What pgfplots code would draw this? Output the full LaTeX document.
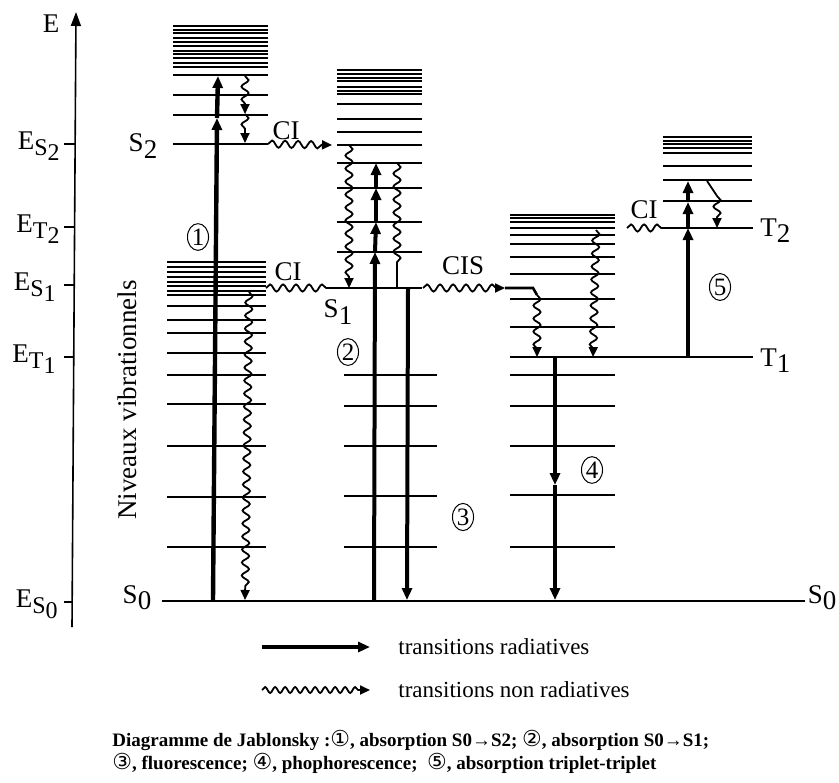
\documentclass[border=0pt]{standalone}
\usepackage{pgfplots}
\pgfplotsset{compat=1.18}
\usepackage{fontspec}
\setmainfont{Liberation Serif}
\newfontfamily\dejavu{DejaVu Sans}
\usetikzlibrary{arrows.meta,decorations.pathmorphing,shapes.geometric}
\tikzset{
 tl/.style={line width=0.6pt},
 tk/.style={line width=1.3pt},
 rad/.style={line width=2pt, -{Triangle[width=5pt,length=6pt]}},
 wav/.style={line width=0.9pt, decorate, decoration={snake, amplitude=1.8pt, segment length=6.5pt, post length=4pt}, -{Triangle[width=4.5pt,length=5pt]}},
 wavn/.style={line width=0.9pt, decorate, decoration={snake, amplitude=1.8pt, segment length=6.5pt}},
 lab/.style={font=\fontsize{13.5}{15}\selectfont, inner sep=0pt},
 circ/.style={draw, ellipse, inner sep=0.6pt, line width=0.5pt, font=\fontsize{12.5}{13}\selectfont}
}
\newcommand\lo[2]{#1\raisebox{-0.5ex}{#2}}
\newcommand\EE[2]{E\raisebox{-0.45ex}{\fontsize{12}{13}\selectfont #1\raisebox{-0.45ex}{#2}}}
\newcommand\cn[1]{{\dejavu\mdseries\fontsize{11}{11}\selectfont #1}}
\begin{document}
\begin{tikzpicture}
\begin{axis}[scale only axis, width=419.5pt, height=391pt,
  xmin=0, xmax=839, ymin=0, ymax=782, y dir=reverse, hide axis, clip=false]
\addplot[draw=none] coordinates {(0,0) (839,782)};
% energy axis
\addplot[line width=0.8pt, -{Triangle[width=5pt,length=7pt]}] coordinates {(72,627) (76,12)};
\addplot[tl] coordinates {(64,144) (75,144)};
\addplot[tl] coordinates {(64,227) (74,227)};
\addplot[tl] coordinates {(64,285) (74,285)};
\addplot[tl] coordinates {(64,357) (74,357)};
\addplot[tl] coordinates {(64,602) (72,602)};
\node[lab, anchor=center] at (axis cs:51,24) {E};
\node[lab, anchor=east] at (axis cs:60,146) {\EE{S}{2}};
\node[lab, anchor=east] at (axis cs:60,229) {\EE{T}{2}};
\node[lab, anchor=east] at (axis cs:56,287) {\EE{S}{1}};
\node[lab, anchor=east] at (axis cs:56,359) {\EE{T}{1}};
\node[lab, anchor=east] at (axis cs:58,604) {\EE{S}{0}};
% ground state
\addplot[tk] coordinates {(162,601) (805,601)};
\node[lab] at (axis cs:137,598) {\lo{S}{0}};
\node[lab] at (axis cs:822,598) {\lo{S}{0}};
% column A, S2 manifold
\addplot[tk] coordinates {(173,26) (268,26)};
\addplot[tl] coordinates {(173,30) (268,30)};
\addplot[tk] coordinates {(173,33) (268,33)};
\addplot[tl] coordinates {(173,38) (268,38)};
\addplot[tk] coordinates {(173,42) (268,42)};
\addplot[tl] coordinates {(173,46) (268,46)};
\addplot[tk] coordinates {(173,51) (268,51)};
\addplot[tl] coordinates {(173,54) (268,54)};
\addplot[tk] coordinates {(173,58) (268,58)};
\addplot[tl] coordinates {(173,63) (268,63)};
\addplot[tl] coordinates {(173,67) (268,67)};
\addplot[tk] coordinates {(173,75) (268,75)};
\addplot[tl] coordinates {(173,95) (268,95)};
\addplot[tl] coordinates {(173,115) (268,115)};
\addplot[tk] coordinates {(173,144) (268,144)};
\node[lab] at (axis cs:143,146) {\lo{S}{2}};
% column A, lower manifold
\addplot[tl] coordinates {(167,262) (266,262)};
\addplot[tk] coordinates {(167,267) (266,267)};
\addplot[tl] coordinates {(167,272) (266,272)};
\addplot[tk] coordinates {(167,277) (266,277)};
\addplot[tl] coordinates {(167,282) (266,282)};
\addplot[tk] coordinates {(167,286) (266,286)};
\addplot[tl] coordinates {(167,291) (266,291)};
\addplot[tl] coordinates {(167,295) (266,295)};
\addplot[tl] coordinates {(167,306) (266,306)};
\addplot[tl] coordinates {(167,320) (266,320)};
\addplot[tl] coordinates {(167,333) (266,333)};
\addplot[tk] coordinates {(167,353) (266,353)};
\addplot[tk] coordinates {(167,375) (266,375)};
\addplot[tk] coordinates {(167,404) (266,404)};
\addplot[tl] coordinates {(167,446) (266,446)};
\addplot[tl] coordinates {(167,497) (266,497)};
\addplot[tl] coordinates {(167,547) (266,547)};
% transitions column A
\addplot[rad, line width=2.2pt] coordinates {(213,600) (217,118)};
\addplot[rad, line width=2.2pt] coordinates {(217,118) (218,76)};
\addplot[wav] coordinates {(245,76) (245,114)};
\addplot[wav] coordinates {(245,114) (245,143)};
\addplot[wav] coordinates {(249,292) (245,600)};
\addplot[wav] coordinates {(268,144) (332,145)};
\addplot[wavn] coordinates {(266,288) (327,288)};
\node[lab] at (axis cs:286,131) {CI};
\node[lab] at (axis cs:288,272) {CI};
\node[circ] at (axis cs:198,237) {1};
% column B
\addplot[tk] coordinates {(337,70) (422,70)};
\addplot[tl] coordinates {(337,74) (422,74)};
\addplot[tk] coordinates {(337,78) (422,78)};
\addplot[tl] coordinates {(337,81) (422,81)};
\addplot[tk] coordinates {(337,87) (422,87)};
\addplot[tl] coordinates {(337,91) (422,91)};
\addplot[tl] coordinates {(337,94) (422,94)};
\addplot[tk] coordinates {(337,104) (422,104)};
\addplot[tl] coordinates {(337,119) (422,119)};
\addplot[tk] coordinates {(337,132) (422,132)};
\addplot[tl] coordinates {(337,145) (422,145)};
\addplot[tl] coordinates {(337,163) (422,163)};
\addplot[tk] coordinates {(337,188) (422,188)};
\addplot[tl] coordinates {(337,222) (422,222)};
\addplot[tk] coordinates {(337,252) (422,252)};
\addplot[tk] coordinates {(327,288) (422,288)};
\addplot[tk] coordinates {(344,375) (437,375)};
\addplot[tl] coordinates {(344,406) (437,406)};
\addplot[tl] coordinates {(344,446) (437,446)};
\addplot[tl] coordinates {(344,496) (437,496)};
\addplot[tl] coordinates {(344,547) (437,547)};
\addplot[wav] coordinates {(349,145) (349,288)};
\addplot[wavn] coordinates {(397,163) (397,268)};
\addplot[line width=0.9pt] coordinates {(397,268) (397,288)};
\addplot[rad] coordinates {(374,600) (375,252)};
\addplot[rad] coordinates {(375,252) (376,222)};
\addplot[rad] coordinates {(376,222) (376,188)};
\addplot[rad] coordinates {(376,188) (376,163)};
\addplot[rad] coordinates {(408,288) (407,600)};
\node[lab] at (axis cs:338,312) {\lo{S}{1}};
\node[circ] at (axis cs:348,352) {2};
\node[circ] at (axis cs:463,517) {3};
% CIS
\addplot[wav] coordinates {(423,288) (505,288)};
\addplot[tk] coordinates {(505,288) (533,288) (537,295)};
\node[lab] at (axis cs:463,266) {CIS};
% column C
\addplot[tl] coordinates {(510,215) (615,215)};
\addplot[tl] coordinates {(510,218) (615,218)};
\addplot[tl] coordinates {(510,222) (615,222)};
\addplot[tk] coordinates {(510,228) (615,228)};
\addplot[tk] coordinates {(510,235) (615,235)};
\addplot[tl] coordinates {(510,244) (615,244)};
\addplot[tk] coordinates {(510,257) (615,257)};
\addplot[tk] coordinates {(510,274) (615,274)};
\addplot[tk] coordinates {(510,299) (615,299)};
\addplot[tk] coordinates {(510,327) (615,327)};
\addplot[tk] coordinates {(510,357) (753,357)};
\addplot[tk] coordinates {(510,375) (615,375)};
\addplot[tl] coordinates {(510,406) (615,406)};
\addplot[tl] coordinates {(510,446) (615,446)};
\addplot[tl] coordinates {(510,495) (615,495)};
\addplot[tl] coordinates {(510,547) (615,547)};
\addplot[wav] coordinates {(537,295) (537,357)};
\addplot[wav] coordinates {(596,230) (593,357)};
\addplot[rad] coordinates {(555,357) (555,485)};
\addplot[rad] coordinates {(555,485) (555,600)};
\node[circ] at (axis cs:592,470) {4};
% CI to T2
\addplot[wavn] coordinates {(627,228) (663,228)};
\node[lab] at (axis cs:644,210) {CI};
% column D
\addplot[tk] coordinates {(663,137) (752,137)};
\addplot[tl] coordinates {(663,141) (752,141)};
\addplot[tk] coordinates {(663,144) (752,144)};
\addplot[tk] coordinates {(663,148) (752,148)};
\addplot[tl] coordinates {(663,153) (752,153)};
\addplot[tk] coordinates {(663,166) (752,166)};
\addplot[tk] coordinates {(663,180) (752,180)};
\addplot[tl] coordinates {(663,201) (752,201)};
\addplot[tk] coordinates {(663,228) (753,228)};
\addplot[rad] coordinates {(688,357) (688,228)};
\addplot[rad] coordinates {(688,228) (688,202)};
\addplot[rad] coordinates {(688,202) (688,181)};
\addplot[line width=0.9pt] coordinates {(707,181) (717,196)};
\addplot[wav] coordinates {(717,196) (717,228)};
\node[lab, anchor=west] at (axis cs:760,231) {\lo{T}{2}};
\node[lab, anchor=west] at (axis cs:760,361) {\lo{T}{1}};
\node[circ] at (axis cs:720,287) {5};
% legend
\addplot[rad] coordinates {(262,647) (370,647)};
\addplot[wav, decoration={snake, amplitude=1.5pt, segment length=5pt, post length=5pt}] coordinates {(262,690) (370,690)};
\node[inner sep=0pt, font=\fontsize{11.5}{13}\selectfont, anchor=west] at (axis cs:398,647) {transitions radiatives};
\node[inner sep=0pt, font=\fontsize{11.5}{13}\selectfont, anchor=west] at (axis cs:398,690) {transitions non radiatives};
% caption
\node[anchor=west, inner sep=0pt, font=\fontsize{9.5}{11}\selectfont\bfseries] at (axis cs:112,740) {Diagramme de Jablonsky :\cn{①}, absorption S0→S2; \cn{②}, absorption S0→S1;};
\node[anchor=west, inner sep=0pt, font=\fontsize{9.5}{11}\selectfont\bfseries] at (axis cs:112,763) {\cn{③}, fluorescence; \cn{④}, phophorescence; \ \cn{⑤}, absorption triplet-triplet};
% vertical label
\node[lab, rotate=90] at (axis cs:127,400) {Niveaux vibrationnels};
\end{axis}
\end{tikzpicture}
\end{document}
